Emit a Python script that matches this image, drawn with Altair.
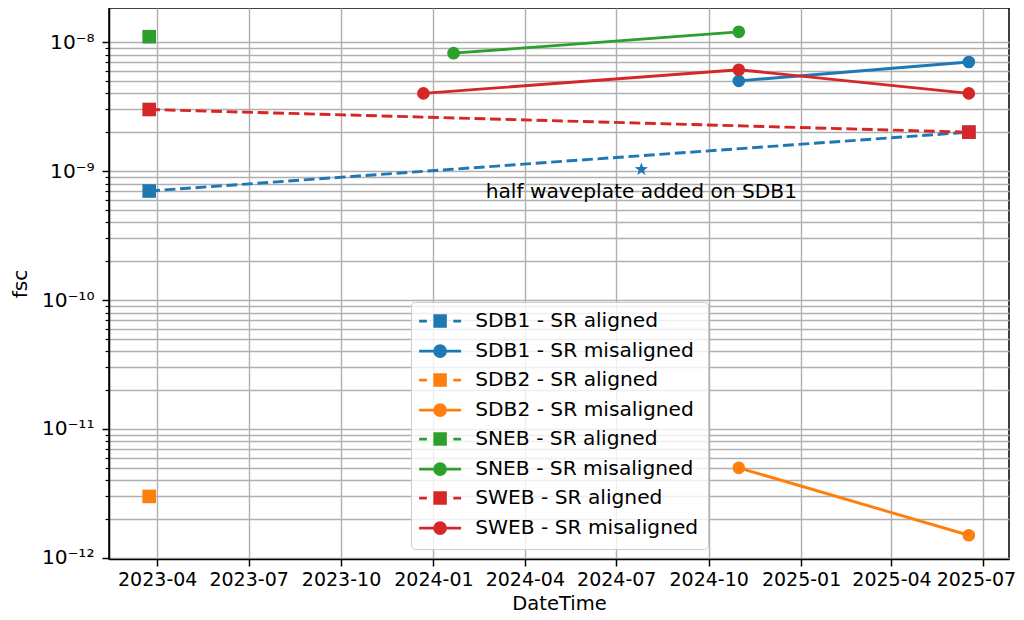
import math
import altair as alt
import pandas as pd

# ---------------- data ----------------
series_names = [
    "SDB1 - SR aligned", "SDB1 - SR misaligned",
    "SDB2 - SR aligned", "SDB2 - SR misaligned",
    "SNEB - SR aligned", "SNEB - SR misaligned",
    "SWEB - SR aligned", "SWEB - SR misaligned",
]
series_colors = ["#1f77b4", "#1f77b4", "#ff7f0e", "#ff7f0e",
                 "#2ca02c", "#2ca02c", "#d62728", "#d62728"]
series_aligned = [True, False, True, False, True, False, True, False]

sdb1_aligned_dates = ["2023-03-24", "2025-06-17"]
sdb1_aligned_fsc = [7.0e-10, 2.0e-9]
sdb1_mis_dates = ["2024-10-31", "2025-06-17"]
sdb1_mis_fsc = [5.0e-9, 7.0e-9]
sdb2_aligned_dates = ["2023-03-24"]
sdb2_aligned_fsc = [3.0e-12]
sdb2_mis_dates = ["2024-10-31", "2025-06-17"]
sdb2_mis_fsc = [5.0e-12, 1.5e-12]
sneb_aligned_dates = ["2023-03-24"]
sneb_aligned_fsc = [1.1e-8]
sneb_mis_dates = ["2024-01-21", "2024-10-31"]
sneb_mis_fsc = [8.2e-9, 1.2e-8]
sweb_aligned_dates = ["2023-03-24", "2025-06-17"]
sweb_aligned_fsc = [3.0e-9, 2.0e-9]
sweb_mis_dates = ["2023-12-22", "2024-10-31", "2025-06-17"]
sweb_mis_fsc = [4.0e-9, 6.1e-9, 4.0e-9]

series_dates = [sdb1_aligned_dates, sdb1_mis_dates, sdb2_aligned_dates, sdb2_mis_dates,
                sneb_aligned_dates, sneb_mis_dates, sweb_aligned_dates, sweb_mis_dates]
series_fsc = [sdb1_aligned_fsc, sdb1_mis_fsc, sdb2_aligned_fsc, sdb2_mis_fsc,
              sneb_aligned_fsc, sneb_mis_fsc, sweb_aligned_fsc, sweb_mis_fsc]

event_dates = ["2024-07-26"]
event_fsc = [1.03e-9]
note_dates = ["2024-07-26"]
note_fsc = [6.9e-10]
note_texts = ["half waveplate added on SDB1"]

x_tick_dates = ["2023-04-01", "2023-07-01", "2023-10-01", "2024-01-01", "2024-04-01",
                "2024-07-01", "2024-10-01", "2025-01-01", "2025-04-01", "2025-07-01"]
x_domain_dates = ["2023-02-12", "2025-07-27"]
y_domain_exp = [-12.008, -7.736]
y_decades = [-12, -11, -10, -9, -8]
sup = {"-12": "⁻¹²", "-11": "⁻¹¹", "-10": "⁻¹⁰", "-9": "⁻⁹", "-8": "⁻⁸"}

FONT = "DejaVu Sans"
FS = 20.2
XFS = 19.0


def ms(s):
    return int(pd.Timestamp(s, tz="UTC").value // 10**6)


x_ticks_ms = [ms(d) for d in x_tick_dates]
x_domain_ms = [ms(d) for d in x_domain_dates]
y_lo, y_hi = 10 ** y_domain_exp[0], 10 ** y_domain_exp[1]
y_values = []
for k in y_decades:
    for m in range(1, 10):
        v = float(f"{m}e{k}")
        if y_lo <= v <= y_hi:
            y_values.append(v)

lg = "log(datum.value)/LN10"
is_major = f"abs({lg} - round({lg})) < 0.001"
label_expr = "''"
for k in y_decades:
    label_expr = f"(round({lg}) == {k} && {is_major}) ? '10{sup[str(k)]}' : ({label_expr})"

x_enc = alt.X(
    "date:T",
    scale=alt.Scale(type="utc", domain=x_domain_ms, nice=False),
    axis=alt.Axis(
        values=x_ticks_ms,
        labelExpr="utcFormat(datum.value, '%Y-%m')",
        labelFontSize=XFS,
        title="DateTime",
        titleFontSize=19.5,
        titleX=450,
        titleY=44,
        titleBaseline="middle",
        grid=True,
        tickSize=7,
        labelPadding=4,
        labelOffset={"condition": {"test": f"time(datum.value) >= {x_ticks_ms[-1]}",
                                   "value": -7},
                     "value": 0},
        labelFlush=False,
        labelOverlap=False,
    ),
)
y_enc = alt.Y(
    "fsc:Q",
    scale=alt.Scale(type="log", domain=[y_lo, y_hi], nice=False),
    axis=alt.Axis(
        values=y_values,
        labelExpr=label_expr,
        title="fsc",
        titleX=-89,
        titleY=275.5,
        titleBaseline="middle",
        titleAngle=270,
        grid=True,
        tickSize={"condition": {"test": is_major, "value": 7}, "value": 4},
        tickWidth={"condition": {"test": is_major, "value": 1.5}, "value": 1.2},
        labelPadding=8,
        labelOverlap=False,
        labelFlush=False,
    ),
)

layers = []
for name, color, aligned, dates, vals in zip(series_names, series_colors, series_aligned,
                                             series_dates, series_fsc):
    d = pd.DataFrame({"date": dates, "fsc": vals, "series": name})
    base = alt.Chart(d)
    lkw = dict(color=color, strokeWidth=2.9, clip=True)
    if aligned:
        lkw["strokeDash"] = [10.8, 4.7]
    layers.append(base.mark_line(**lkw).encode(x=x_enc, y=y_enc))
    if aligned:
        pm = base.mark_point(shape="square", filled=True, size=185, color=color, opacity=1)
    else:
        pm = base.mark_point(shape="circle", filled=True, size=160, color=color, opacity=1)
    layers.append(pm.encode(x=x_enc, y=y_enc))

# star marker for the event
star_pts = []
for i in range(10):
    r = 1.0 if i % 2 == 0 else 0.42
    a = -math.pi / 2 + i * math.pi / 5
    star_pts.append(f"{r*math.cos(a):.4f},{r*math.sin(a):.4f}")
star_path = "M" + "L".join(star_pts) + "Z"
ev = pd.DataFrame({"date": event_dates, "fsc": event_fsc})
layers.append(alt.Chart(ev).mark_point(shape=star_path, filled=True, size=190,
                                       color="#1f77b4", opacity=1).encode(x=x_enc, y=y_enc))
nt = pd.DataFrame({"date": note_dates, "fsc": note_fsc, "label": note_texts})
layers.append(alt.Chart(nt).mark_text(font=FONT, fontSize=FS, align="center",
                                      baseline="middle", color="black")
              .encode(x=x_enc, y=y_enc, text="label:N"))

# legend carrier (no visible marks): symbols are line + marker paths drawn by stroke
S = 8.0  # sqrt(256)/2


def u(px):
    return f"{px / S:.4f}"


def sq(h):
    return f"M-{u(h)},-{u(h)}H{u(h)}V{u(h)}H-{u(h)}Z"


def ci(r):
    return (f"M{u(r)},0A{u(r)},{u(r)},0,1,1,-{u(r)},0"
            f"A{u(r)},{u(r)},0,1,1,{u(r)},0Z")


half = 21.0
dash_path = f"M-{u(half)},0H-{u(13.2)}M{u(13.2)},0H{u(half)}" + sq(5.3) + sq(3.2) + sq(1.1)
solid_path = f"M-{u(half)},0H{u(half)}" + ci(5.4) + ci(3.3) + ci(1.2)
legend_shapes = [dash_path if a else solid_path for a in series_aligned]

leg_df = pd.DataFrame({"date": [x_domain_dates[0]], "fsc": [1e-9], "series": [series_names[0]]})
legend = alt.Legend(
    title=None, orient="none", legendX=302, legendY=294,
    labelFont=FONT, labelFontSize=FS, labelColor="black", labelLimit=400,
    symbolSize=256, symbolStrokeWidth=2.9, symbolOffset=10, labelOffset=25,
    rowPadding=6, padding=9,
    fillColor="rgba(255,255,255,0.8)", strokeColor="#cccccc", cornerRadius=4,
)
carrier = alt.Chart(leg_df).transform_filter("false").mark_point(
    size=256, strokeWidth=2.9, filled=False, opacity=1
).encode(
    x=x_enc, y=y_enc,
    color=alt.Color("series:N", scale=alt.Scale(domain=series_names, range=series_colors),
                    legend=legend),
    shape=alt.Shape("series:N", scale=alt.Scale(domain=series_names, range=legend_shapes),
                    legend=legend),
)
layers.append(carrier)

chart = alt.layer(*layers).properties(
    width=900, height=551,
    autosize=alt.AutoSizeParams(type="none"),
    padding={"left": 101, "top": 0, "right": 7, "bottom": 53},
).configure_view(
    stroke="black", strokeWidth=1.5
).configure_axis(
    labelFont=FONT, labelFontSize=FS, labelColor="black",
    titleFont=FONT, titleFontSize=FS, titleColor="black", titleFontWeight="normal",
    domainColor="black", domainWidth=1.5, tickColor="black", tickWidth=1.5,
    gridColor="#b0b0b0", gridWidth=1.4,
)

chart.save("out.html", embed_options={"renderer": "svg", "actions": False})
